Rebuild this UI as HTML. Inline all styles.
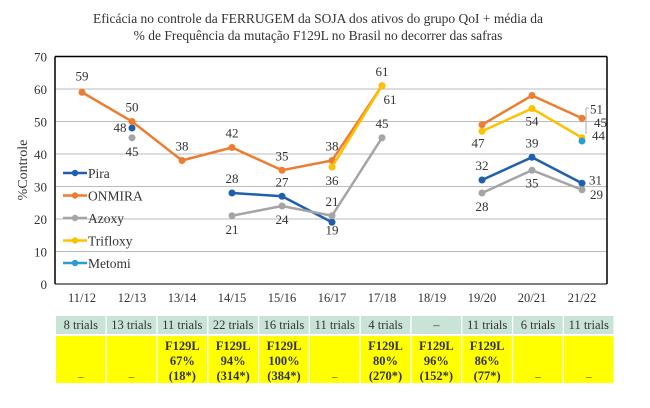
<!DOCTYPE html>
<html><head><meta charset="utf-8"><style>
body{margin:0;background:#fff;width:650px;height:403px;overflow:hidden;font-family:"Liberation Serif",serif;}
svg text{font-family:"Liberation Serif",serif;fill:#333;}
</style></head><body>
<svg id="c" width="650" height="403">
<text x="318" y="23" text-anchor="middle" font-size="13.5">Eficácia no controle da FERRUGEM da SOJA dos ativos do grupo QoI + média da</text>
<text x="318" y="40" text-anchor="middle" font-size="13.5">% de Frequência da mutação F129L no Brasil no decorrer das safras</text>
<text transform="translate(27,170) rotate(-90)" text-anchor="middle" font-size="14">%Controle</text>
<g id="grid"></g><g id="series"></g><g id="legend"></g><g id="table"></g>
<path d="M589,108 L586,108 L586,134" fill="none" stroke="#999" stroke-width="0.8"/>
</svg>
<script>
const categories=["11/12","12/13","13/14","14/15","15/16","16/17","17/18","18/19","19/20","20/21","21/22"];
const yTicks=[0,10,20,30,40,50,60,70];
const pira=[null,48,null,28,27,19,null,null,32,39,31];
const onmira=[59,50,38,42,35,38,61,null,49,58,51];
const azoxy=[null,45,null,21,24,21,45,null,28,35,29];
const trifloxy=[null,null,null,null,null,36,61,null,47,54,45];
const metomi=[null,null,null,null,null,null,null,null,null,null,44];
const trials=["8 trials","13 trials","11 trials","22 trials","16 trials","11 trials","4 trials","–","11 trials","6 trials","11 trials"];
const freq=[null,null,"67%","94%","100%",null,"80%","96%","86%",null,null];
const counts=[null,null,"(18*)","(314*)","(384*)",null,"(270*)","(152*)","(77*)",null,null];
const NS="http://www.w3.org/2000/svg";
const X=i=>82+i*50, Y=v=>284-v*3.25;
function mk(t,a,p){const e=document.createElementNS(NS,t);for(const k in a)e.setAttribute(k,a[k]);p.appendChild(e);return e;}
const g=document.getElementById('grid');
yTicks.forEach(v=>{
 const l=mk('line',{x1:55,x2:607,y1:Y(v),y2:Y(v),stroke:v==0||v==70?'#000':'#bbb','stroke-width':v==70?1.5:1},g);
 
 
 const t=mk('text',{x:47,y:Y(v)+5,'text-anchor':'end','font-size':13},g);t.textContent=v;
 
 
});
mk('line',{x1:55,x2:55,y1:Y(70),y2:284,stroke:'#000','stroke-width':1.5},g);
mk('line',{x1:607,x2:607,y1:Y(70),y2:284,stroke:'#000','stroke-width':1.5},g);
categories.forEach((c,i)=>{const t=mk('text',{x:X(i),y:302,'text-anchor':'middle','font-size':12.5},g);t.textContent=c;
 
 });
const S=document.getElementById('series');
const series=[["Pira",pira,"#1f5fad"],["ONMIRA",onmira,"#ed7d31"],["Azoxy",azoxy,"#a5a5a5"],["Trifloxy",trifloxy,"#ffc000"],["Metomi",metomi,"#2e9bd6"]];
const off={Pira:[[0,0],[-12,4],[0,0],[0,-10],[0,-10],[0,12],[0,0],[0,0],[0,-10],[0,-10],[7,1]],
 ONMIRA:[[0,-12],[0,-10],[0,-10],[0,-10],[0,-10],[0,-10],[0,-10],[0,0],[0,0],[0,0],[8,-5]],
 Azoxy:[[0,0],[0,18],[0,0],[0,18],[0,18],[0,-10],[0,-10],[0,0],[0,18],[0,17],[8,9]],
 Trifloxy:[[0,0],[0,0],[0,0],[0,0],[0,0],[0,18],[8,18],[0,0],[-4,16],[0,17],[12,-11]],
 Metomi:[[0,0],[0,0],[0,0],[0,0],[0,0],[0,0],[0,0],[0,0],[0,0],[0,0],[10,-1]]};
series.forEach(([n,d,col])=>{
 const gg=mk('g',{},S);
 let seg=[];const segs=[];
 d.forEach((v,i)=>{if(v==null){if(seg.length)segs.push(seg);seg=[];}else seg.push([X(i),Y(v)]);});
 if(seg.length)segs.push(seg);
 segs.forEach(s=>{if(s.length>1)mk('polyline',{points:s.map(p=>p.join(',')).join(' '),fill:'none',stroke:col,'stroke-width':2.5},gg);});
 d.forEach((v,i)=>{if(v==null)return;
  const c=mk('circle',{cx:X(i),cy:Y(v),r:3.5,fill:col},gg);
  
  
  const o=off[n][i];
  if(n=='ONMIRA'&&(i==8||i==9))return;
  const t=mk('text',{x:X(i)+o[0],y:Y(v)+o[1],'text-anchor':i==10?'start':'middle','font-size':13},gg);t.textContent=v;
 });
});
const L=document.getElementById('legend');
series.forEach(([n,d,col],k)=>{const y=173+k*22.5;
 const gg=mk('g',{},L);
 mk('line',{x1:63,x2:87,y1:y,y2:y,stroke:col,'stroke-width':2.5},gg);
 mk('circle',{cx:75,cy:y,r:3.2,fill:col},gg);
 const t=mk('text',{x:88,y:y+5,'font-size':13.5},gg);t.textContent=n;});
const T=document.getElementById('table');
categories.forEach((c,i)=>{const x=56+i*50.8,w=49.5;
 const r=mk('rect',{x:x,y:316,width:w,height:18,fill:'#c9e4d6'},T);
 
 let t=mk('text',{x:x+w/2,y:329,'text-anchor':'middle','font-size':12.5,fill:'#222'},T);t.textContent=trials[i];
 const r2=mk('rect',{x:x,y:336,width:w,height:47,fill:'#ffff00'},T);
 
 if(freq[i]){[["F129L",350],[freq[i],365],[counts[i],380]].forEach(([s,y])=>{t=mk('text',{x:x+w/2,y:y,'text-anchor':'middle','font-size':12.5,'font-weight':'bold',fill:'#222'},T);t.textContent=s;});}
 else{t=mk('text',{x:x+w/2,y:380,'text-anchor':'middle','font-size':11,fill:'#555'},T);t.textContent='–';}
});
</script>
</body></html>
